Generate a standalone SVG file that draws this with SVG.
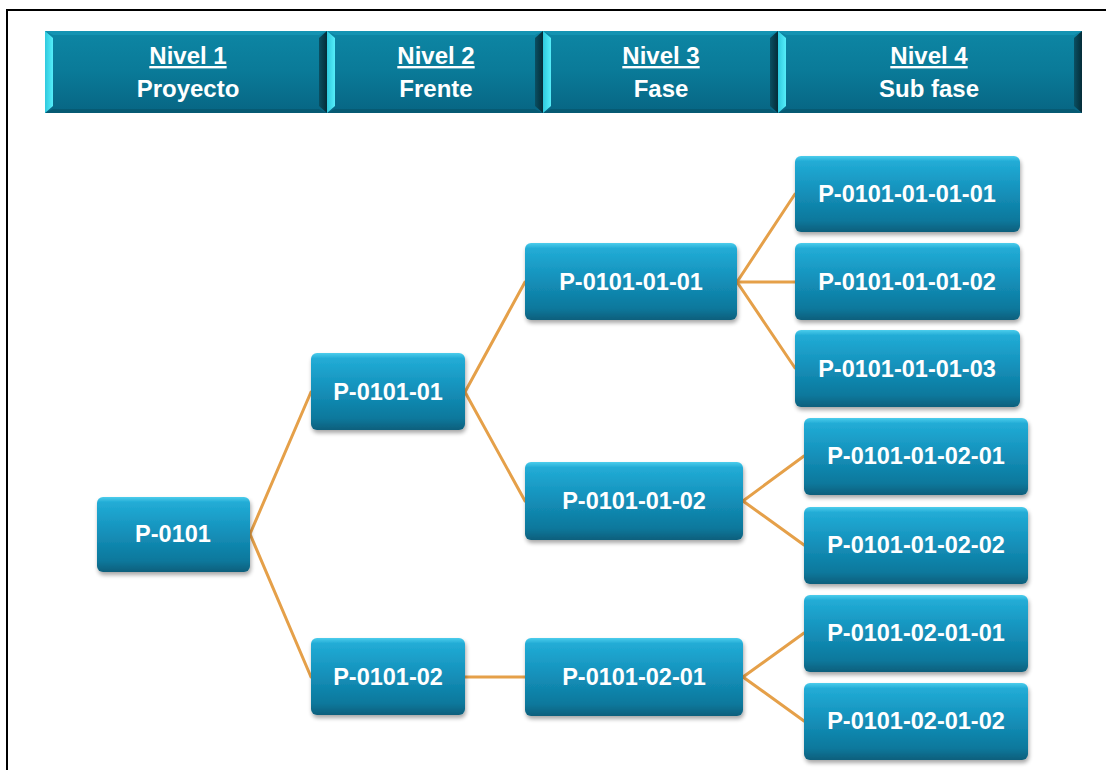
<svg xmlns="http://www.w3.org/2000/svg" width="1106" height="770" viewBox="0 0 1106 770">
<defs>
<linearGradient id="nodeGrad" x1="0" y1="0" x2="0" y2="1">
<stop offset="0" stop-color="#4CCDEC"/>
<stop offset="0.07" stop-color="#22ACD6"/>
<stop offset="0.45" stop-color="#1592BC"/>
<stop offset="0.85" stop-color="#0C789C"/>
<stop offset="1" stop-color="#0A5F7C"/>
</linearGradient>
<linearGradient id="hdrGrad" x1="0" y1="0" x2="0" y2="1">
<stop offset="0" stop-color="#0D86A4"/>
<stop offset="0.5" stop-color="#0A7A98"/>
<stop offset="1" stop-color="#076583"/>
</linearGradient>
<linearGradient id="bevelL" x1="0" y1="0" x2="1" y2="0">
<stop offset="0" stop-color="#2FC9DE"/>
<stop offset="1" stop-color="#55EEFA"/>
</linearGradient>
<linearGradient id="bevelR" x1="0" y1="0" x2="1" y2="0">
<stop offset="0" stop-color="#0A4F62"/>
<stop offset="1" stop-color="#042C38"/>
</linearGradient>
<filter id="shadow" x="-10%" y="-10%" width="125%" height="135%">
<feGaussianBlur in="SourceAlpha" stdDeviation="2"/>
<feOffset dx="1" dy="3" result="b"/>
<feComponentTransfer><feFuncA type="linear" slope="0.35"/></feComponentTransfer>
<feMerge><feMergeNode/><feMergeNode in="SourceGraphic"/></feMerge>
</filter>
</defs>
<style>
.node rect{fill:url(#nodeGrad);filter:url(#shadow);}
.node text{font-family:"Liberation Sans",Arial,sans-serif;font-weight:bold;font-size:23.5px;fill:#FFFFFF;text-anchor:middle;}
.hdr text{font-family:"Liberation Sans",Arial,sans-serif;font-weight:bold;font-size:24px;fill:#FFFFFF;text-anchor:middle;}
.hdr .u{text-decoration:underline;}
.conn line{stroke:#E5A049;stroke-width:3;stroke-linecap:round;}
.bl{fill:url(#bevelL);}
.br{fill:url(#bevelR);}
.bt{fill:#1493B2;}
.bb{fill:#065A73;}
</style>
<rect x="0" y="0" width="1106" height="770" fill="#FFFFFF"/>
<rect x="7" y="10" width="1112" height="800" fill="none" stroke="#000000" stroke-width="2"/>

<g id="header" class="hdr">
<g id="h1">
<rect x="45" y="31" width="282" height="82" fill="url(#hdrGrad)"/>
<polygon class="bt" points="45,31 327,31 319,35 53,35"/>
<polygon class="bb" points="45,113 327,113 319,109 53,109"/>
<polygon class="bl" points="45,31 53,38 53,106 45,113"/>
<polygon class="br" points="327,31 319,38 319,106 327,113"/>
<text class="u" x="188" y="64">Nivel 1</text>
<text x="188" y="97">Proyecto</text>
</g>
<g id="h2">
<rect x="327" y="31" width="216" height="82" fill="url(#hdrGrad)"/>
<polygon class="bt" points="327,31 543,31 535,35 335,35"/>
<polygon class="bb" points="327,113 543,113 535,109 335,109"/>
<polygon class="bl" points="327,31 335,38 335,106 327,113"/>
<polygon class="br" points="543,31 535,38 535,106 543,113"/>
<text class="u" x="436" y="64">Nivel 2</text>
<text x="436" y="97">Frente</text>
</g>
<g id="h3">
<rect x="543" y="31" width="235" height="82" fill="url(#hdrGrad)"/>
<polygon class="bt" points="543,31 778,31 770,35 551,35"/>
<polygon class="bb" points="543,113 778,113 770,109 551,109"/>
<polygon class="bl" points="543,31 551,38 551,106 543,113"/>
<polygon class="br" points="778,31 770,38 770,106 778,113"/>
<text class="u" x="661" y="64">Nivel 3</text>
<text x="661" y="97">Fase</text>
</g>
<g id="h4">
<rect x="778" y="31" width="304" height="82" fill="url(#hdrGrad)"/>
<polygon class="bt" points="778,31 1082,31 1074,35 786,35"/>
<polygon class="bb" points="778,113 1082,113 1074,109 786,109"/>
<polygon class="bl" points="778,31 786,38 786,106 778,113"/>
<polygon class="br" points="1082,31 1074,38 1074,106 1082,113"/>
<text class="u" x="929" y="64">Nivel 4</text>
<text x="929" y="97">Sub fase</text>
</g>
</g>

<g id="connectors" class="conn">
<line x1="250" y1="534" x2="311" y2="392"/>
<line x1="250" y1="534" x2="311" y2="677"/>
<line x1="465" y1="392" x2="525" y2="282"/>
<line x1="465" y1="392" x2="525" y2="501"/>
<line x1="465" y1="677" x2="525" y2="677"/>
<line x1="737" y1="282" x2="795" y2="194"/>
<line x1="737" y1="282" x2="795" y2="282"/>
<line x1="737" y1="282" x2="795" y2="368"/>
<line x1="743" y1="501" x2="804" y2="456"/>
<line x1="743" y1="501" x2="804" y2="545"/>
<line x1="743" y1="677" x2="804" y2="633"/>
<line x1="743" y1="677" x2="804" y2="721"/>
</g>

<g id="n-p0101" class="node"><rect x="97" y="497" width="153" height="75" rx="6"/><text x="173" y="542">P-0101</text></g>
<g id="n-p0101-01" class="node"><rect x="311" y="353" width="154" height="77" rx="6"/><text x="388" y="400">P-0101-01</text></g>
<g id="n-p0101-02" class="node"><rect x="311" y="638" width="154" height="77" rx="6"/><text x="388" y="685">P-0101-02</text></g>
<g id="n-p0101-01-01" class="node"><rect x="525" y="243" width="212" height="77" rx="6"/><text x="631" y="290">P-0101-01-01</text></g>
<g id="n-p0101-01-02" class="node"><rect x="525" y="462" width="218" height="78" rx="6"/><text x="634" y="509">P-0101-01-02</text></g>
<g id="n-p0101-02-01" class="node"><rect x="525" y="638" width="218" height="78" rx="6"/><text x="634" y="685">P-0101-02-01</text></g>
<g id="n-p0101-01-01-01" class="node"><rect x="795" y="156" width="225" height="76" rx="6"/><text x="907" y="202">P-0101-01-01-01</text></g>
<g id="n-p0101-01-01-02" class="node"><rect x="795" y="243" width="225" height="77" rx="6"/><text x="907" y="290">P-0101-01-01-02</text></g>
<g id="n-p0101-01-01-03" class="node"><rect x="795" y="330" width="225" height="77" rx="6"/><text x="907" y="377">P-0101-01-01-03</text></g>
<g id="n-p0101-01-02-01" class="node"><rect x="804" y="418" width="224" height="77" rx="6"/><text x="916" y="464">P-0101-01-02-01</text></g>
<g id="n-p0101-01-02-02" class="node"><rect x="804" y="507" width="224" height="77" rx="6"/><text x="916" y="553">P-0101-01-02-02</text></g>
<g id="n-p0101-02-01-01" class="node"><rect x="804" y="595" width="224" height="77" rx="6"/><text x="916" y="641">P-0101-02-01-01</text></g>
<g id="n-p0101-02-01-02" class="node"><rect x="804" y="683" width="224" height="77" rx="6"/><text x="916" y="729">P-0101-02-01-02</text></g>
</svg>
